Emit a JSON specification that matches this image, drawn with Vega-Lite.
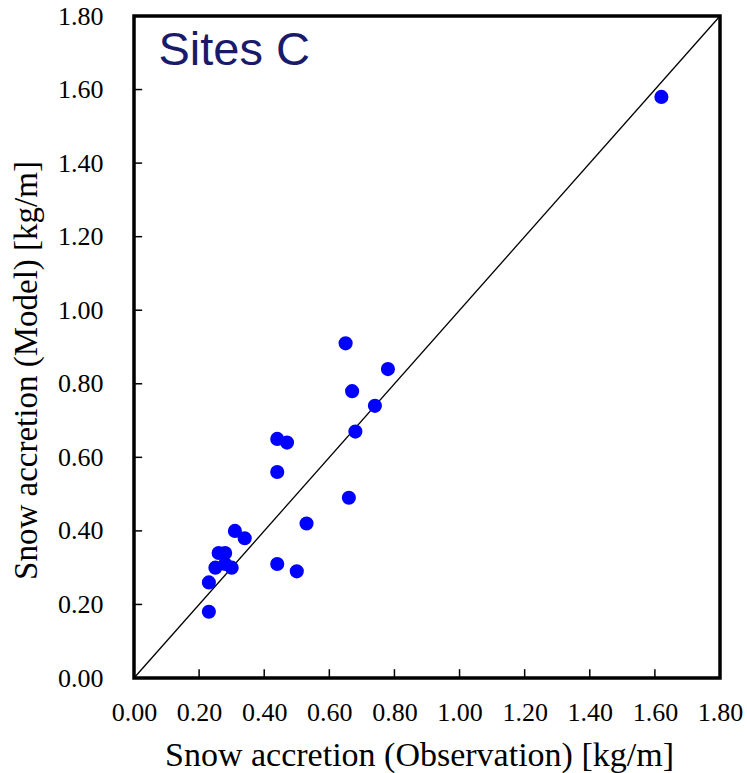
{
  "$schema": "https://vega.github.io/schema/vega-lite/v6.json",
  "width": 586,
  "height": 662,
  "autosize": "none",
  "padding": {"left": 134, "top": 16, "right": 27, "bottom": 95},
  "background": "white",
  "config": {
    "view": {"stroke": "black", "strokeWidth": 3.5},
    "axis": {"grid": false, "domain": false, "ticks": false, "labelFont": "Liberation Serif", "titleFont": "Liberation Serif", "labelColor": "black", "titleColor": "black", "titleFontWeight": "normal"}
  },
  "datasets": {
    "pts": [
      {"obs": 0.65, "mod": 0.91},
      {"obs": 0.78, "mod": 0.84},
      {"obs": 0.67, "mod": 0.78},
      {"obs": 0.74, "mod": 0.74},
      {"obs": 0.68, "mod": 0.67},
      {"obs": 0.44, "mod": 0.65},
      {"obs": 0.47, "mod": 0.64},
      {"obs": 0.44, "mod": 0.56},
      {"obs": 0.66, "mod": 0.49},
      {"obs": 0.53, "mod": 0.42},
      {"obs": 0.31, "mod": 0.40},
      {"obs": 0.34, "mod": 0.38},
      {"obs": 0.26, "mod": 0.34},
      {"obs": 0.28, "mod": 0.34},
      {"obs": 0.25, "mod": 0.30},
      {"obs": 0.30, "mod": 0.30},
      {"obs": 0.28, "mod": 0.31},
      {"obs": 0.44, "mod": 0.31},
      {"obs": 0.50, "mod": 0.29},
      {"obs": 0.23, "mod": 0.26},
      {"obs": 0.23, "mod": 0.18},
      {"obs": 1.62, "mod": 1.58}
    ],
    "diag": [
      {"obs": 0, "mod": 0},
      {"obs": 1.8, "mod": 1.8}
    ],
    "xtickvals": [
      {"obs": 0.2, "mod": 0, "mod2": 0.024},
      {"obs": 0.4, "mod": 0, "mod2": 0.024},
      {"obs": 0.6, "mod": 0, "mod2": 0.024},
      {"obs": 0.8, "mod": 0, "mod2": 0.024},
      {"obs": 1.0, "mod": 0, "mod2": 0.024},
      {"obs": 1.2, "mod": 0, "mod2": 0.024},
      {"obs": 1.4, "mod": 0, "mod2": 0.024},
      {"obs": 1.6, "mod": 0, "mod2": 0.024}
    ],
    "ytickvals": [
      {"mod": 0.2, "obs": 0, "obs2": 0.025},
      {"mod": 0.4, "obs": 0, "obs2": 0.025},
      {"mod": 0.6, "obs": 0, "obs2": 0.025},
      {"mod": 0.8, "obs": 0, "obs2": 0.025},
      {"mod": 1.0, "obs": 0, "obs2": 0.025},
      {"mod": 1.2, "obs": 0, "obs2": 0.025},
      {"mod": 1.4, "obs": 0, "obs2": 0.025},
      {"mod": 1.6, "obs": 0, "obs2": 0.025}
    ],
    "label": [
      {"obs": 0.075, "mod": 1.667, "text": "Sites C"}
    ]
  },
  "layer": [
    {
      "data": {"name": "diag"},
      "mark": {"type": "line", "color": "black", "strokeWidth": 1.3},
      "encoding": {
        "x": {"field": "obs", "type": "quantitative", "scale": {"domain": [0, 1.8], "nice": false},
          "axis": {"title": "Snow accretion (Observation) [kg/m]", "values": [0,0.2,0.4,0.6,0.8,1.0,1.2,1.4,1.6,1.8], "format": ".2f", "labelFontSize": 26, "titleFontSize": 34, "labelPadding": 21, "titlePadding": 13, "titleX": 285, "labelFlush": false}},
        "y": {"field": "mod", "type": "quantitative", "scale": {"domain": [0, 1.8], "nice": false},
          "axis": {"title": "Snow accretion (Model) [kg/m]", "values": [0,0.2,0.4,0.6,0.8,1.0,1.2,1.4,1.6,1.8], "format": ".2f", "labelFontSize": 26, "titleFontSize": 33, "labelPadding": 31, "titlePadding": 14, "titleY": 354, "labelFlush": false}}
      }
    },
    {
      "data": {"name": "xtickvals"},
      "mark": {"type": "rule", "color": "black", "strokeWidth": 1.5},
      "encoding": {
        "x": {"field": "obs", "type": "quantitative"},
        "y": {"field": "mod", "type": "quantitative"},
        "y2": {"field": "mod2"}
      }
    },
    {
      "data": {"name": "ytickvals"},
      "mark": {"type": "rule", "color": "black", "strokeWidth": 1.5},
      "encoding": {
        "y": {"field": "mod", "type": "quantitative"},
        "x": {"field": "obs", "type": "quantitative"},
        "x2": {"field": "obs2"}
      }
    },
    {
      "data": {"name": "pts"},
      "mark": {"type": "circle", "color": "#0000ff", "opacity": 1, "size": 200},
      "encoding": {
        "x": {"field": "obs", "type": "quantitative"},
        "y": {"field": "mod", "type": "quantitative"}
      }
    },
    {
      "data": {"name": "label"},
      "mark": {"type": "text", "font": "Liberation Sans", "fontSize": 47, "color": "#1a1a6b", "align": "left", "baseline": "alphabetic"},
      "encoding": {
        "x": {"field": "obs", "type": "quantitative"},
        "y": {"field": "mod", "type": "quantitative"},
        "text": {"field": "text"}
      }
    }
  ]
}
